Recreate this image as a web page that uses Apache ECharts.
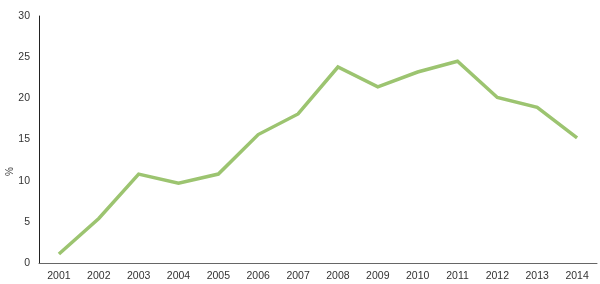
<!DOCTYPE html>
<html><head><meta charset="utf-8">
<script src="https://cdn.jsdelivr.net/npm/echarts@6/dist/echarts.min.js"></script>
<style>html,body{margin:0;padding:0;background:#fff}#c{width:600px;height:284px}</style>
</head><body><div id="c"></div>
<script>
const years = ['2001','2002','2003','2004','2005','2006','2007','2008','2009','2010','2011','2012','2013','2014'];
const values = [1.1, 5.4, 10.8, 9.7, 10.8, 15.6, 18.1, 23.8, 21.4, 23.2, 24.5, 20.1, 18.9, 15.2];
const yTicks = [0, 5, 10, 15, 20, 25, 30];
const yLabel = '%';
const FONT = "'Liberation Sans',Arial,sans-serif";
const chart = echarts.init(document.getElementById('c'), null, {renderer:'canvas'});
chart.setOption({
  animation:false,
  backgroundColor:'#fff',
  grid:{left:39,right:3,top:16,bottom:21,containLabel:false},
  xAxis:{type:'category',data:years,boundaryGap:true,
    axisLine:{lineStyle:{color:'#666',width:1}},
    axisTick:{show:false},
    axisLabel:{color:'#333',fontSize:10.5,fontFamily:FONT,margin:8}},
  yAxis:{type:'value',min:yTicks[0],max:yTicks[yTicks.length-1],interval:5,
    axisLine:{show:true,lineStyle:{color:'#222',width:1}},
    axisTick:{show:false},
    splitLine:{show:false},
    axisLabel:{color:'#333',fontSize:10.5,fontFamily:FONT,margin:9}},
  graphic:[{type:'text',left:5,top:167,rotation:Math.PI/2,
    style:{text:yLabel,fill:'#444',font:'10px '+FONT}}],
  series:[{type:'line',data:values,symbol:'none',
    lineStyle:{color:'#9CC470',width:3.5,join:'miter'}}]
});
</script></body></html>
